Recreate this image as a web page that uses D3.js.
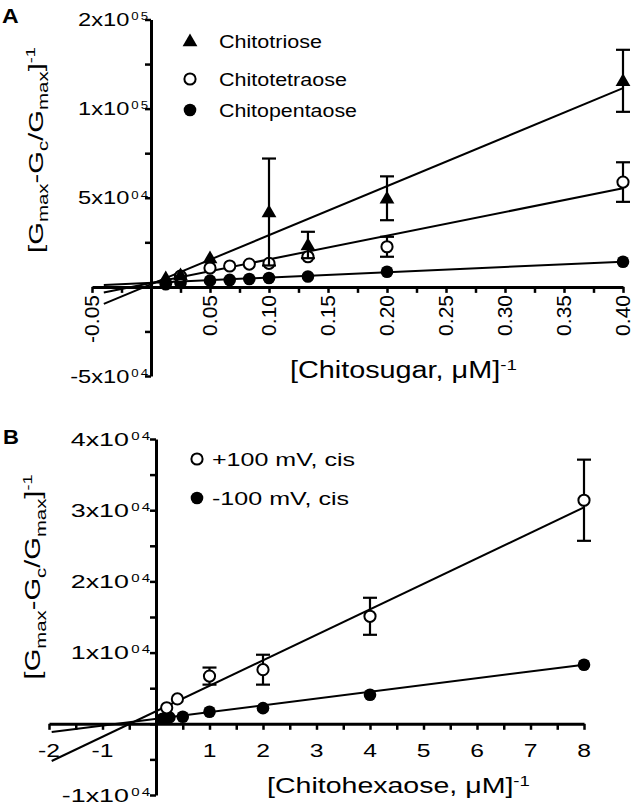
<!DOCTYPE html>
<html><head><meta charset="utf-8">
<script src="https://cdn.jsdelivr.net/npm/d3@7"></script>
<style>html,body{margin:0;padding:0;background:#fff;}svg{display:block;}</style>
</head><body>
<script>
// ---------- Panel A data ----------
const triX = [0.0125, 0.025, 0.05, 0.1, 0.133, 0.2, 0.4];
const triY = [5000, 6700, 16200, 42000, 23500, 49700, 115600];
const triE = [0, 0, 0, 30000, 7400, 12300, 17400];

const tetX = [0.025, 0.05, 0.0667, 0.0833, 0.1, 0.133, 0.2, 0.4];
const tetY = [6000, 10600, 11700, 12800, 13200, 16900, 22500, 58800];
const tetE = [0, 0, 0, 0, 0, 0, 5600, 11100];

const penX = [0.0125, 0.025, 0.05, 0.0667, 0.0833, 0.1, 0.133, 0.2, 0.4];
const penY = [1500, 2200, 3500, 3900, 4400, 5000, 5800, 8500, 14100];

const fitA_names = ["Chitotriose", "Chitotetraose", "Chitopentaose"];
const fitA_slope = [275000, 132900, 29500];
const fitA_intercept = [1500, 2150, 2300];
const fitA_range = [-0.04, 0.4];

const xTicksA = [-0.05, 0.05, 0.10, 0.15, 0.20, 0.25, 0.30, 0.35, 0.40];
const xTickLabelsA = ["-0.05", "0.05", "0.10", "0.15", "0.20", "0.25", "0.30", "0.35", "0.40"];
const yTicksA = [-50000, 50000, 100000, 150000];
const yTickMantA = ["-5x10", "5x10", "1x10", "2x10"];
const yTickExpA = [["0","4"], ["0","4"], ["0","5"], ["0","5"]];

// ---------- Panel B data ----------
const posX = [0.2, 0.4, 1, 2, 4, 8];
const posY = [2250, 3500, 6700, 7600, 15100, 31400];
const posE = [0, 0, 1200, 2100, 2600, 5700];

const negX = [0.125, 0.25, 0.5, 1, 2, 4, 8];
const negY = [700, 900, 1000, 1700, 2200, 4080, 8300];

const fitB_names = ["+100 mV, cis", "-100 mV, cis"];
const fitB_slope = [3580, 950];
const fitB_intercept = [1760, 700];
const fitB_range = [-1.95, 8];

const xTicksB = [-2, -1, 1, 2, 3, 4, 5, 6, 7, 8];
const xTickLabelsB = ["-2", "-1", "1", "2", "3", "4", "5", "6", "7", "8"];
const yTicksB = [-10000, 10000, 20000, 30000, 40000];
const yTickMantB = ["-1x10", "1x10", "2x10", "3x10", "4x10"];
const yTickExpB = [["0","4"], ["0","4"], ["0","4"], ["0","4"], ["0","4"]];

// ---------- Setup ----------
const W = 633, H = 810;
const FONT = "'Liberation Sans', Arial, Helvetica, sans-serif";
const svg = d3.select("body").append("svg").attr("width", W).attr("height", H);
svg.append("rect").attr("width", W).attr("height", H).attr("fill", "#fff");

function drawText(parent, o) {
  const g = parent.append("g").attr("transform", `translate(${o.x},${o.y}) rotate(${o.rotate || 0})`);
  const t = g.append("text").attr("font-family", FONT).attr("font-size", o.size)
    .attr("text-anchor", o.anchor || "start").attr("font-weight", o.bold ? "bold" : "normal")
    .attr("fill", "#000");
  if (o.baseY) t.attr("y", o.baseY);
  let shift = 0;
  o.parts.forEach(p => {
    const ts = t.append("tspan").text(p.t);
    let target = 0, fs = o.size;
    if (p.type === "sub") { target = o.size * (o.subShift || 0.25); fs = o.size * (o.subScale || 0.7); }
    else if (p.type === "sup") { target = -o.size * (o.supRaise || 0.37); fs = o.size * (o.supScale || 0.5); }
    ts.attr("font-size", fs).attr("dy", target - shift);
    if (p.dx) ts.attr("dx", p.dx);
    shift = target;
  });
  let sx = o.sx || 1;
  if (o.width) { const w = t.node().getBBox().width; sx = o.width / w; }
  t.attr("transform", `scale(${sx},1)`);
  return g;
}

function styleAxis(g) {
  g.select(".domain").attr("stroke", "#000").attr("stroke-width", 3);
  g.selectAll(".tick line").attr("stroke", "#000").attr("stroke-width", 2.5);
  g.selectAll(".tick text").remove();
}

const tri = d3.symbol().type(d3.symbolTriangle).size(95);

function drawSeries(g, xs, ys, es, x, y, kind) {
  xs.forEach((xv, i) => {
    const e = es ? es[i] : 0;
    if (!e) return;
    const cx = x(xv), y1 = y(ys[i] + e), y2 = y(ys[i] - e);
    g.append("line").attr("x1", cx).attr("x2", cx).attr("y1", y1).attr("y2", y2)
      .attr("stroke", "#000").attr("stroke-width", 2.2);
    [y1, y2].forEach(yy => g.append("line").attr("x1", cx - 7).attr("x2", cx + 7)
      .attr("y1", yy).attr("y2", yy).attr("stroke", "#000").attr("stroke-width", 2.2));
  });
  xs.forEach((xv, i) => drawMarker(g, x(xv), y(ys[i]), kind));
}
function drawMarker(g, cx, cy, kind) {
  if (kind === "tri") {
    g.append("path").attr("d", tri).attr("transform", `translate(${cx},${cy + 1})`).attr("fill", "#000");
  } else if (kind === "open") {
    g.append("circle").attr("cx", cx).attr("cy", cy).attr("r", 5.6)
      .attr("fill", "#fff").attr("stroke", "#000").attr("stroke-width", 2);
  } else {
    g.append("circle").attr("cx", cx).attr("cy", cy).attr("r", 6.3).attr("fill", "#000");
  }
}
function drawFit(g, slope, icpt, range, x, y) {
  const pts = range.map(v => [x(v), y(slope * v + icpt)]);
  g.append("path").attr("d", d3.line()(pts)).attr("stroke", "#000").attr("stroke-width", 2).attr("fill", "none");
}

// ================= Panel A =================
const xA = d3.scaleLinear().domain([-0.05, 0.40]).range([92, 623]);
const yA = d3.scaleLinear().domain([-50000, 150000]).range([376, 19.5]);
const gA = svg.append("g");

const xMinorA = d3.range(-2, 17).map(i => i * 0.025);
const yMinorA = d3.range(-2, 7).map(i => i * 25000);

const axXA = gA.append("g").attr("transform", `translate(0,${yA(0)})`)
  .call(d3.axisBottom(xA).tickValues(xMinorA).tickSize(6).tickSizeOuter(0));
styleAxis(axXA);
const axYA = gA.append("g").attr("transform", `translate(${xA(0)},0)`)
  .call(d3.axisLeft(yA).tickValues(yMinorA).tickSize(6).tickSizeOuter(0));
styleAxis(axYA);

fitA_slope.forEach((s, i) => drawFit(gA, s, fitA_intercept[i], fitA_range, xA, yA));
drawSeries(gA, penX, penY, null, xA, yA, "filled");
drawSeries(gA, tetX, tetY, tetE, xA, yA, "open");
drawSeries(gA, triX, triY, triE, xA, yA, "tri");

yTicksA.forEach((v, i) => {
  drawText(gA, { x: 148, y: yA(v) + 6.7, size: 18.5, anchor: "end", sx: 1.28, supScale: 0.56, supRaise: 0.32,
    parts: [{ t: yTickMantA[i] }, { t: yTickExpA[i][0], type: "sup", dx: 1.5 }, { t: yTickExpA[i][1], type: "sup", dx: 1.5 }] });
});
xTicksA.forEach((v, i) => {
  drawText(gA, { x: xA(v), y: 295, rotate: -90, size: 21, anchor: "end", baseY: 7.4,
    parts: [{ t: xTickLabelsA[i] }] });
});
drawText(gA, { x: 290, y: 378, size: 23, width: 227, supScale: 0.65, supRaise: 0.34,
  parts: [{ t: "[Chitosugar, μM]" }, { t: "-1", type: "sup" }] });
drawText(gA, { x: 43, y: 150, rotate: -90, size: 21, anchor: "middle", width: 206, supScale: 0.62, supRaise: 0.38,
  parts: [{ t: "[G" }, { t: "max", type: "sub" }, { t: "-G" }, { t: "c", type: "sub" }, { t: "/G" },
          { t: "max", type: "sub" }, { t: "]" }, { t: "-1", type: "sup" }] });
drawText(gA, { x: 2, y: 23, size: 21, bold: true, sx: 1.1, parts: [{ t: "A" }] });

const legA_y = [41, 79, 110];
const legA_kind = ["tri", "open", "filled"];
const legA_w = [103, 128, 138];
fitA_names.forEach((n, i) => {
  drawMarker(gA, 190, legA_y[i], legA_kind[i]);
  drawText(gA, { x: 219, y: legA_y[i] + 6.6, size: 18.5, width: legA_w[i], parts: [{ t: n }] });
});

// ================= Panel B =================
const xB = d3.scaleLinear().domain([-2, 8]).range([49, 584]);
const yB = d3.scaleLinear().domain([-10000, 40000]).range([795, 439]);
const gB = svg.append("g");

const xMinorB = d3.range(-4, 17).map(i => i * 0.5);
const yMinorB = d3.range(-2, 9).map(i => i * 5000);

const axXB = gB.append("g").attr("transform", `translate(0,${yB(0)})`)
  .call(d3.axisBottom(xB).tickValues(xMinorB).tickSize(6).tickSizeOuter(0));
styleAxis(axXB);
const axYB = gB.append("g").attr("transform", `translate(${xB(0)},0)`)
  .call(d3.axisLeft(yB).tickValues(yMinorB).tickSize(6).tickSizeOuter(0));
styleAxis(axYB);

fitB_slope.forEach((s, i) => drawFit(gB, s, fitB_intercept[i], fitB_range, xB, yB));
drawSeries(gB, negX, negY, null, xB, yB, "filled");
drawSeries(gB, posX, posY, posE, xB, yB, "open");

yTicksB.forEach((v, i) => {
  drawText(gB, { x: 150, y: yB(v) + 6.7, size: 18.5, anchor: "end", sx: 1.45, supScale: 0.56, supRaise: 0.32,
    parts: [{ t: yTickMantB[i] }, { t: yTickExpB[i][0], type: "sup", dx: 1.5 }, { t: yTickExpB[i][1], type: "sup", dx: 1.5 }] });
});
xTicksB.forEach((v, i) => {
  drawText(gB, { x: xB(v), y: 757, size: 19, anchor: "middle", sx: 1.3, parts: [{ t: xTickLabelsB[i] }] });
});
drawText(gB, { x: 267, y: 793, size: 22, width: 263, supScale: 0.65, supRaise: 0.34,
  parts: [{ t: "[Chitohexaose, μM]" }, { t: "-1", type: "sup" }] });
drawText(gB, { x: 40, y: 577, rotate: -90, size: 22, anchor: "middle", width: 205, supScale: 0.62, supRaise: 0.38,
  parts: [{ t: "[G" }, { t: "max", type: "sub" }, { t: "-G" }, { t: "c", type: "sub" }, { t: "/G" },
          { t: "max", type: "sub" }, { t: "]" }, { t: "-1", type: "sup" }] });
drawText(gB, { x: 3, y: 444, size: 21, bold: true, sx: 1.05, parts: [{ t: "B" }] });

const legB_y = [459, 498];
const legB_kind = ["open", "filled"];
const legB_w = [143, 137];
fitB_names.forEach((n, i) => {
  drawMarker(gB, 197, legB_y[i], legB_kind[i]);
  drawText(gB, { x: 212, y: legB_y[i] + 6.5, size: 18.2, width: legB_w[i], parts: [{ t: n }] });
});
</script>
</body></html>
